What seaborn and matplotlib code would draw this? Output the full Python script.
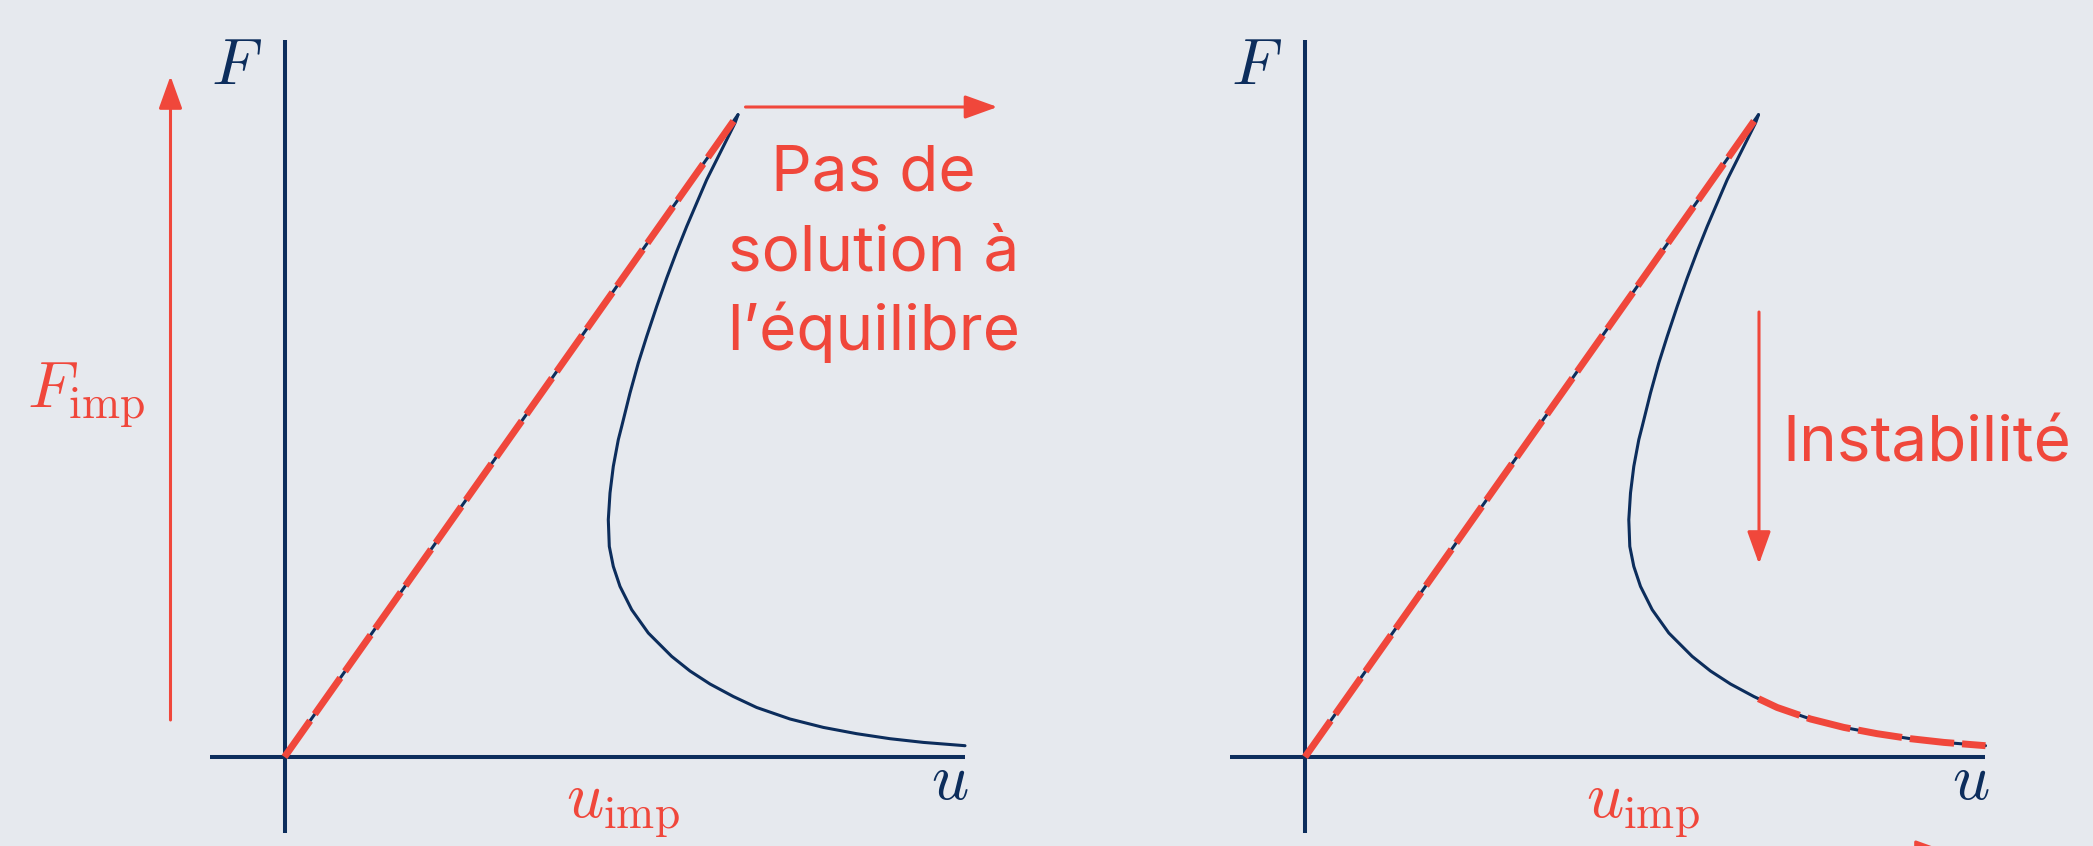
import numpy as np
import pandas as pd
import matplotlib
matplotlib.use("Agg")
import matplotlib.pyplot as plt
import seaborn as sns

# courbe force-deplacement (u, F), 1 unite = 100 px
u_load = [0.0, 4.535]
F_load = [0.0, 6.423]

u_branch = [4.535, 4.505, 4.422, 4.322, 4.222, 4.122, 4.022, 3.922, 3.822, 3.722,
            3.622, 3.538, 3.455, 3.372, 3.338, 3.288, 3.255, 3.238, 3.248, 3.288,
            3.355, 3.472, 3.638, 3.872, 4.055, 4.255, 4.488, 4.722, 5.055, 5.388,
            5.722, 6.055, 6.388, 6.805]
F_branch = [6.423, 6.34, 6.173, 5.973, 5.773, 5.54, 5.306, 5.056, 4.79, 4.506,
            4.206, 3.94, 3.64, 3.306, 3.173, 2.906, 2.64, 2.373, 2.106, 1.906,
            1.706, 1.473, 1.24, 1.006, 0.86, 0.73, 0.605, 0.495, 0.38, 0.296,
            0.233, 0.183, 0.146, 0.113]

# partie suivie apres l'instabilite (panneau de droite)
u_tail = [4.535, 4.722, 5.055, 5.388, 5.722, 6.055, 6.388, 6.805]
F_tail = [0.583, 0.495, 0.38, 0.296, 0.233, 0.183, 0.146, 0.113]

navy = "#0c2d5c"
red = "#f0473b"
bg = "#e6e9ee"

sns.set_theme(style="white")
plt.rcParams['font.family'] = ['Inter', 'DejaVu Sans']
plt.rcParams['mathtext.fontset'] = 'cm'

fig = plt.figure(figsize=(20.93, 8.46), dpi=100, facecolor=bg)
ax1 = fig.add_axes([0, 0, 1021/2093, 1])
ax2 = fig.add_axes([1021/2093, 0, 1072/2093, 1])

load_df = pd.DataFrame({'u': u_load, 'F': F_load})
branch_df = pd.DataFrame({'u': u_branch, 'F': F_branch})
tail_df = pd.DataFrame({'u': u_tail, 'F': F_tail})

dash = (0, (6.4, 1.15))
arrow_kw = dict(arrowstyle='-|>,head_length=1.0,head_width=0.36', color=red,
                lw=2.2, mutation_scale=20, shrinkA=0, shrinkB=0)


def panel(ax, xlim):
    ax.set_facecolor(bg)
    ax.set_xlim(*xlim)
    ax.set_ylim(-0.89, 7.57)
    # axes u et F
    ax.plot([-0.75, 6.80], [0, 0], color=navy, lw=2.9, solid_capstyle='butt')
    ax.plot([0, 0], [-0.76, 7.17], color=navy, lw=2.9, solid_capstyle='butt')
    sns.lineplot(data=load_df, x='u', y='F', sort=False, estimator=None, ax=ax,
                 color=navy, lw=2.2)
    sns.lineplot(data=branch_df, x='u', y='F', sort=False, estimator=None, ax=ax,
                 color=navy, lw=2.2, solid_joinstyle='round')
    sns.lineplot(data=load_df, x='u', y='F', sort=False, estimator=None, ax=ax,
                 color=red, lw=5.0, linestyle=dash, dash_capstyle='butt')
    ax.text(-0.74, 6.73, r'$F$', color=navy, fontsize=47, ha='left', va='baseline')
    ax.text(6.465, -0.42, r'$u$', color=navy, fontsize=47, ha='left', va='baseline')
    ax.text(2.81, -0.61, r'$u_{\rm imp}$', color=red, fontsize=47, ha='left', va='baseline')
    ax.axis('off')
    ax.set_xlabel('')
    ax.set_ylabel('')


panel(ax1, (-2.845, 7.365))
panel(ax2, (-2.84, 7.88))

# panneau gauche : force imposee
ax1.text(-2.575, 3.49, r'$F_{\rm imp}$', color=red, fontsize=47, ha='left', va='baseline')
ax1.annotate('', xy=(-1.14, 6.81), xytext=(-1.14, 0.37), arrowprops=arrow_kw)
ax1.annotate('', xy=(7.13, 6.50), xytext=(4.61, 6.50), arrowprops=arrow_kw)
for txt, yb in zip(['Pas de', 'solution à', 'l’équilibre'], [5.67, 4.87, 4.07]):
    ax1.text(5.89, yb, txt, color=red, fontsize=46, ha='center', va='baseline')

# panneau droit : deplacement impose
sns.lineplot(data=tail_df, x='u', y='F', sort=False, estimator=None, ax=ax2,
             color=red, lw=5.0, linestyle=dash, dash_capstyle='butt')
ax2.annotate('', xy=(4.54, 1.93), xytext=(4.54, 4.45), arrowprops=arrow_kw)
ax2.text(4.77, 2.96, 'Instabilité', color=red, fontsize=46, ha='left', va='baseline')
ax2.annotate('', xy=(6.43, -0.95), xytext=(3.0, -0.95), arrowprops=arrow_kw,
             annotation_clip=False)
ax2.axis('off')

fig.savefig('out.png', dpi=100, facecolor=bg)
